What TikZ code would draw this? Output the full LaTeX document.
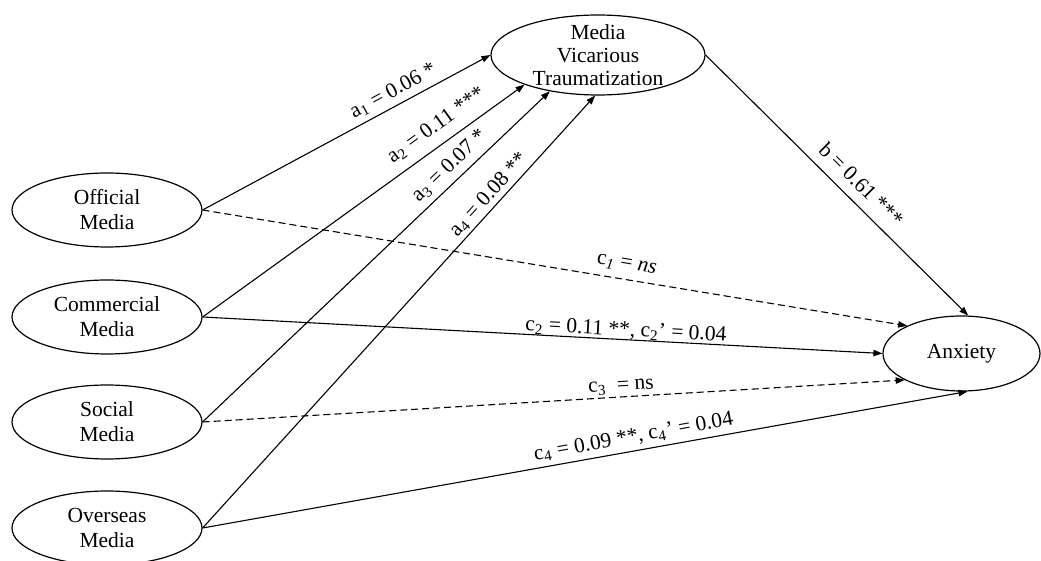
\documentclass[tikz,border=0pt]{standalone}
\usepackage{fontspec}
\setmainfont{Liberation Serif}
\usetikzlibrary{arrows.meta,shapes.geometric}
\begin{document}
\begin{tikzpicture}[x=0.5pt,y=-0.5pt,
  var/.style={draw, ellipse, line width=0.6pt, inner sep=0pt, minimum width=95pt, minimum height=37pt},
  lab/.style={label={[align=center,font=\fontsize{10.75pt}{12.5pt}\selectfont]center:#1}},
  labt/.style={label={[align=center,font=\fontsize{10.75pt}{11.5pt}\selectfont]center:#1}},
  arr/.style={draw, line width=0.55pt, -{Triangle[length=4.5pt,width=3.2pt]}},
  nsline/.style={dash pattern=on 3.5pt off 2pt},
  coef/.style={sloped, font=\fontsize{10.75pt}{12.5pt}\selectfont, inner sep=0pt, text height=7.6pt, text depth=2.2pt}
]
\useasboundingbox (0,0) rectangle (1041,561);

\node[var, lab={Official\\Media}] (off) at (107,210) {};
\node[var, lab={Commercial\\Media}] (com) at (107,317) {};
\node[var, lab={Social\\Media}] (soc) at (107,422) {};
\node[var, lab={Overseas\\Media}] (ovs) at (107,528) {};
\node[var, minimum width=107pt, minimum height=40pt, labt={Media\\Vicarious\\Traumatization}] (mvt) at (598,55) {};
\node[var, minimum width=78.5pt, minimum height=37.5pt, lab={Anxiety}] (anx) at (961.5,353.5) {};

\draw[arr] (off.east) -- node[coef, pos=0.686, above=1.9pt] {a\textsubscript{1} = 0.06 *} (mvt.west);
\draw[arr] (com.east) -- node[coef, pos=0.76, above=4.1pt] {a\textsubscript{2} = 0.11 ***} (mvt.202);
\draw[arr] (soc.east) -- node[coef, pos=0.741, above=2.4pt] {a\textsubscript{3} = 0.07 *} (mvt.217);
\draw[arr] (ovs.east) -- node[coef, pos=0.7515, above=0.75pt] {a\textsubscript{4} = 0.08 **} (mvt.266);
\draw[arr] (mvt.east) -- node[coef, pos=0.545, above=2.9pt] {b = 0.61 ***} (anx.80);
\draw[arr, nsline] (off.east) -- node[coef, pos=0.5986, above=2.85pt] {c\textsubscript{\textit{1}} = \textit{ns}} (anx.153);
\draw[arr] (com.east) -- node[coef, pos=0.622, above=-0.6pt] {c\textsubscript{2} = 0.11 **, c\textsubscript{2}’ = 0.04} (anx.west);
\draw[arr, nsline] (soc.east) -- node[coef, pos=0.597, above=0.6pt] {c\textsubscript{3} \ = ns} (anx.205);
\draw[arr] (ovs.east) -- node[coef, pos=0.5665, above=1.6pt] {c\textsubscript{4} = 0.09 **, c\textsubscript{4}’ = 0.04} (anx.279);
\end{tikzpicture}
\end{document}
